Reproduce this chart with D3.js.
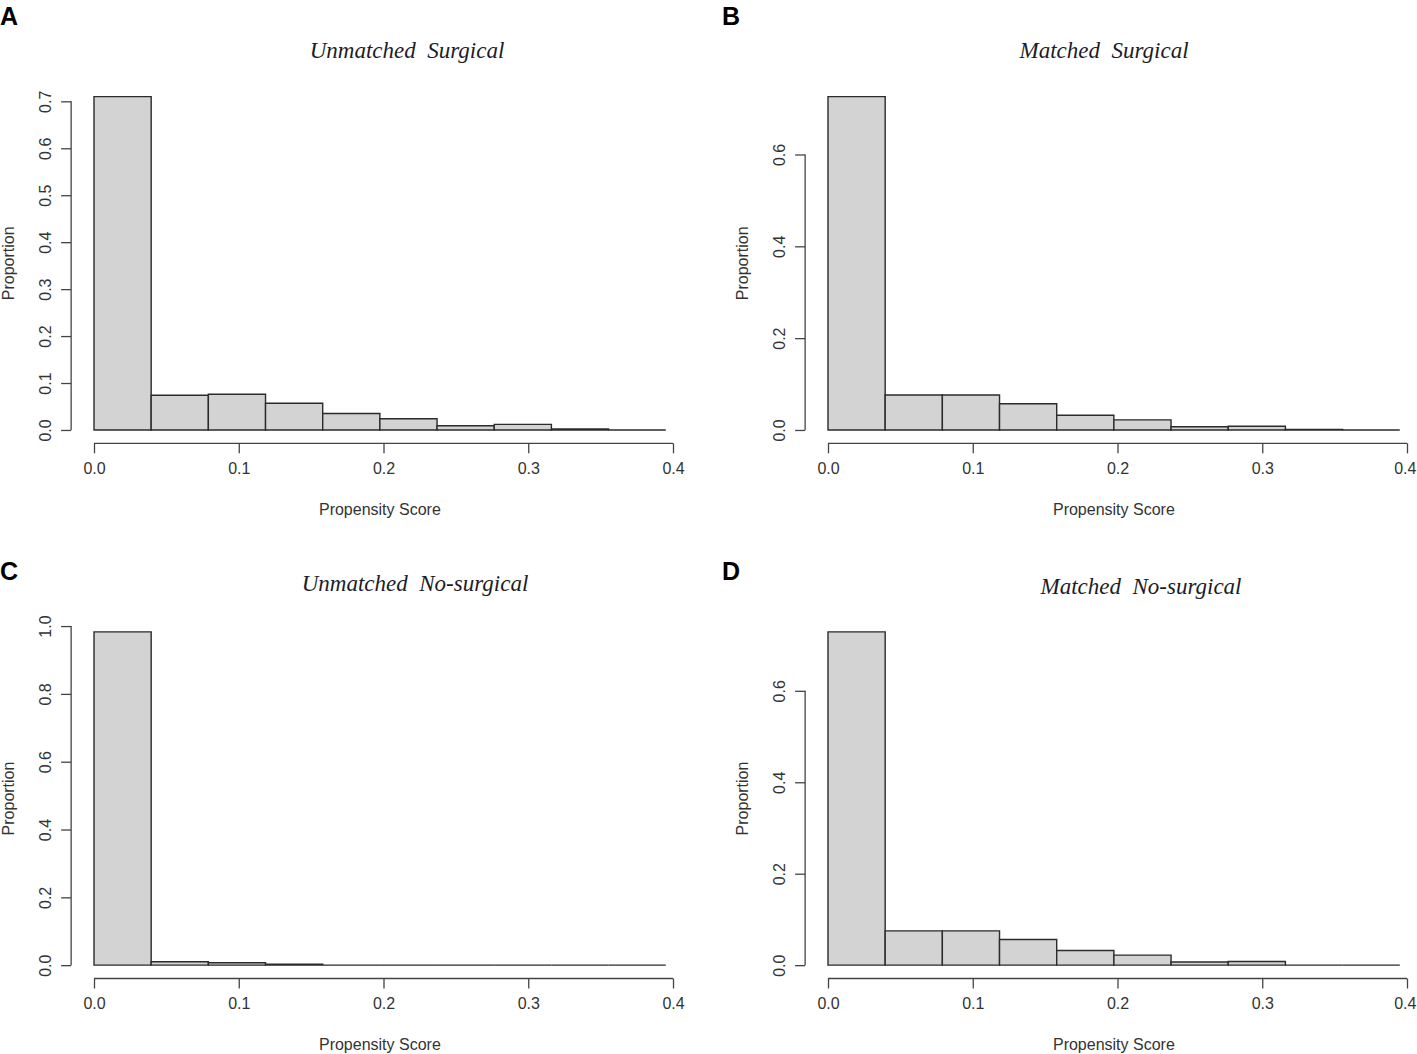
<!DOCTYPE html>
<html>
<head>
<meta charset="utf-8">
<script src="https://cdn.jsdelivr.net/npm/d3@7"></script>
<style>
  html, body { margin: 0; padding: 0; background: #fff; }
  svg { display: block; }
  text { white-space: pre; }
</style>
</head>
<body>
<svg id="chart" width="1417" height="1054"></svg>
<script>
// ---- data ----
const breaks = [0, 0.0395, 0.079, 0.1185, 0.158, 0.1975, 0.237, 0.2765, 0.316, 0.3555, 0.395];
const unmatchedSurgical   = [0.710, 0.074, 0.076, 0.057, 0.035, 0.024, 0.009, 0.012, 0.002, 0];
const matchedSurgical     = [0.726, 0.076, 0.076, 0.057, 0.032, 0.022, 0.007, 0.008, 0.001, 0];
const unmatchedNoSurgical = [0.983, 0.010, 0.007, 0.003, 0, 0, 0, 0, 0, 0];
const matchedNoSurgical   = [0.729, 0.075, 0.075, 0.056, 0.032, 0.022, 0.007, 0.008, 0, 0];
const xTicks = [0, 0.1, 0.2, 0.3, 0.4];
const yTicksA = [0, 0.1, 0.2, 0.3, 0.4, 0.5, 0.6, 0.7];
const yTicksB = [0, 0.2, 0.4, 0.6];
const yTicksC = [0, 0.2, 0.4, 0.6, 0.8, 1.0];
const yTicksD = [0, 0.2, 0.4, 0.6];
const titles = ["Unmatched  Surgical", "Matched  Surgical", "Unmatched  No-surgical", "Matched  No-surgical"];
const letters = ["A", "B", "C", "D"];
const xLabel = "Propensity Score";
const yLabel = "Proportion";

// ---- layout ----
const W = 1417, H = 1054;
const colX0 = [94, 828];        // pixel of x = 0
const colX4 = [673, 1407];      // pixel of x = 0.4
const rowBottom = [443.3, 978.5];
const regionH = 360;
const titleCX = [407, 1104, 415, 1141];
const titleCY = [50, 50, 583, 586];
const letterX = [0, 722, 0, 722];
const letterY = [25, 25, 580, 580];

const panels = [
  { values: unmatchedSurgical, yTicks: yTicksA, col: 0, row: 0 },
  { values: matchedSurgical, yTicks: yTicksB, col: 1, row: 0 },
  { values: unmatchedNoSurgical, yTicks: yTicksC, col: 0, row: 1 },
  { values: matchedNoSurgical, yTicks: yTicksD, col: 1, row: 1 }
];

const svg = d3.select("#chart");
svg.append("rect").attr("width", W).attr("height", H).attr("fill", "#fff");

const sans = "'Liberation Sans', Arial, Helvetica, sans-serif";
const serif = "'Liberation Serif', 'Times New Roman', serif";
const axisColor = "#444";
const textColor = "#333";

panels.forEach((p, i) => {
  const g = svg.append("g");
  const x = d3.scaleLinear().domain([0, 0.4]).range([colX0[p.col], colX4[p.col]]);
  const m = d3.max(p.values);
  const bottom = rowBottom[p.row];
  const y = d3.scaleLinear().domain([-0.04 * m, 1.04 * m]).range([bottom, bottom - regionH]);
  const xSpan = breaks[breaks.length - 1] - breaks[0];
  const regionLeft = x(breaks[0] - 0.04 * xSpan);
  const regionRight = x(breaks[breaks.length - 1] + 0.04 * xSpan);

  // bars (as closed paths so zero-height bins still draw a line, like R)
  const bins = p.values.map((v, k) => ({ x0: breaks[k], x1: breaks[k + 1], v }));
  g.selectAll("path.bar").data(bins).enter().append("path")
    .attr("class", "bar")
    .attr("d", d => {
      const a = x(d.x0), b = x(d.x1), t = y(d.v), z = y(0);
      return `M${a},${z}V${t}H${b}V${z}Z`;
    })
    .attr("fill", "#d3d3d3")
    .attr("stroke", "#2b2b2b")
    .attr("stroke-width", 1.4);

  // x axis
  const xAxis = d3.axisBottom(x).tickValues(xTicks).tickFormat(d3.format(".1f")).tickSize(10).tickPadding(9);
  const xa = g.append("g").attr("transform", `translate(0,${bottom})`).call(xAxis);
  xa.select(".domain").attr("d", `M${x(xTicks[0])},0H${x(xTicks[xTicks.length - 1])}`)
    .attr("stroke", axisColor).attr("stroke-width", 1.3);
  xa.selectAll(".tick line").attr("stroke", axisColor).attr("stroke-width", 1.3);
  xa.selectAll(".tick text").attr("font-family", sans).attr("font-size", 16).attr("fill", textColor);
  // keep labels inside the page
  xa.selectAll(".tick").each(function (d) {
    const t = d3.select(this).select("text");
    const bb = t.node().getBBox();
    const px = x(d);
    const over = px + bb.x + bb.width - (W - 1);
    if (over > 0) t.attr("x", -over);
  });

  // y axis
  const yAxis = d3.axisLeft(y).tickValues(p.yTicks).tickFormat(d3.format(".1f")).tickSize(10).tickPadding(0);
  const ya = g.append("g").attr("transform", `translate(${regionLeft},0)`).call(yAxis);
  ya.select(".domain").attr("d", `M0,${y(p.yTicks[0])}V${y(p.yTicks[p.yTicks.length - 1])}`)
    .attr("stroke", axisColor).attr("stroke-width", 1.3);
  ya.selectAll(".tick line").attr("stroke", axisColor).attr("stroke-width", 1.3);
  ya.selectAll(".tick text")
    .attr("x", 0).attr("dy", null)
    .attr("transform", "translate(-26,0) rotate(-90)")
    .attr("text-anchor", "middle")
    .attr("dominant-baseline", "central")
    .attr("font-family", sans).attr("font-size", 16).attr("fill", textColor);

  // axis labels
  g.append("text")
    .attr("x", (regionLeft + regionRight) / 2)
    .attr("y", bottom + 66)
    .attr("text-anchor", "middle")
    .attr("dominant-baseline", "central")
    .attr("font-family", sans).attr("font-size", 16).attr("fill", textColor)
    .text(xLabel);
  g.append("text")
    .attr("transform", `translate(${regionLeft - 63},${bottom - regionH / 2}) rotate(-90)`)
    .attr("text-anchor", "middle")
    .attr("dominant-baseline", "central")
    .attr("font-family", sans).attr("font-size", 16).attr("fill", textColor)
    .text(yLabel);

  // title
  g.append("text")
    .attr("x", titleCX[i]).attr("y", titleCY[i])
    .attr("text-anchor", "middle")
    .attr("dominant-baseline", "central")
    .attr("font-family", serif).attr("font-style", "italic").attr("font-size", 23)
    .attr("fill", "#1c1c28")
    .text(titles[i]);

  // panel letter
  g.append("text")
    .attr("x", letterX[i]).attr("y", letterY[i])
    .attr("font-family", sans).attr("font-weight", "bold").attr("font-size", 25)
    .attr("fill", "#000")
    .text(letters[i]);
});
</script>
</body>
</html>
